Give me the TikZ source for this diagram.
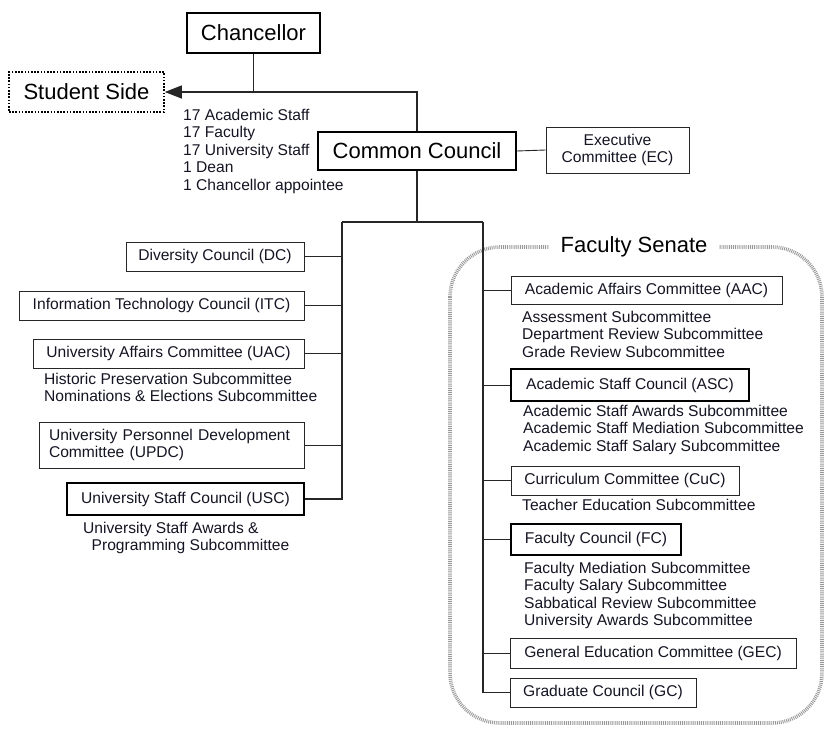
\documentclass[tikz,border=0pt]{standalone}
\usepackage{fontspec}
\setmainfont{Liberation Sans}
\usetikzlibrary{arrows.meta}
\newcommand\smfont{\fontsize{15.6}{17.6}\selectfont}
\newcommand\bigfont{\fontsize{22}{26}\selectfont}
\definecolor{ink}{RGB}{20,20,35}
\tikzset{
  box/.style={draw=black!85, line width=0.9pt, font=\smfont, text=ink, inner sep=0pt, align=center},
  thickbox/.style={box, line width=1.9pt, draw=black},
  bigbox/.style={draw=black, line width=1.9pt, font=\bigfont, text=black, inner sep=0pt},
  subtext/.style={font=\smfont, text=ink, inner sep=0pt, align=left, anchor=north west},
  bus/.style={line width=1.2pt, draw=black!85},
  branch/.style={line width=0.9pt, draw=black!85},
}
\begin{document}
\begin{tikzpicture}[x=1pt,y=-1pt]
\useasboundingbox (0,0) rectangle (827,728);
% Faculty Senate frame
\draw[draw=gray!80, line width=3.6pt, dash pattern=on 0.9pt off 1.0pt, rounded corners=50pt] (450,247) rectangle (822,723);
\node[fill=white, inner xsep=12pt, inner ysep=2pt, font=\bigfont] (fs) at (634,247) {Faculty Senate};
% top
\node[bigbox, minimum width=133, minimum height=40] (chan) at (253.5,33) {Chancellor};
\node[draw=black, line width=1.6pt, dash pattern=on 1.6pt off 1.6pt, font=\bigfont, inner sep=0pt, minimum width=155, minimum height=40] (ss) at (86.5,92) {Student Side};
\node[bigbox, minimum width=198, minimum height=38] (cc) at (417,151) {Common Council};
\node[box, minimum width=143, minimum height=46] (ec) at (617.5,150) {Executive\\[-1pt]Committee (EC)};
\node[subtext] (members) at (183,108.5) {17 Academic Staff\\17 Faculty\\17 University Staff\\1 Dean\\1 Chancellor appointee};
\draw[bus] (chan.south) -- (chan.south |- ss.east);
\draw[bus, -{Triangle[length=17pt,width=13pt]}] (cc.north) |- (ss.east);
\draw[branch] (cc.east) -- (ec.west);
% bus
\coordinate (L) at (342,222);
\coordinate (R) at (483,222);
\draw[bus] (cc.south) -- (cc.south |- L);
\draw[bus] (L) -- (R);
% left side
\node[box, minimum width=178, minimum height=29] (dc) at (215,256.5) {Diversity Council (DC)};
\node[box, minimum width=285, minimum height=29] (itc) at (161.5,305.5) {Information Technology Council (ITC)};
\node[box, minimum width=271, minimum height=29] (uac) at (168.5,353.5) {University Affairs Committee (UAC)};
\node[subtext] (uacsub) at (44,372.5) {Historic Preservation Subcommittee\\Nominations \& Elections Subcommittee};
\node[box, minimum width=265, minimum height=46, text width=245, align=left, font=\fontsize{15.6}{16.8}\selectfont] (updc) at (171.5,445) {University Personnel Development\\Committee (UPDC)};
\node[thickbox, minimum width=237, minimum height=32] (usc) at (185.5,499) {University Staff Council (USC)};
\node[subtext] (uscsub) at (83,521.5) {University Staff Awards \&\\\hspace*{8.5pt}Programming Subcommittee};
\draw[bus] (L) |- (usc.east);
\foreach \n in {dc,itc,uac,updc}{\draw[branch] (\n.east) -- (\n.east -| L);}
% right side
\node[box, minimum width=271, minimum height=28] (aac) at (646.5,290) {Academic Affairs Committee (AAC)};
\node[subtext] (aacsub) at (522,310.5) {Assessment Subcommittee\\Department Review Subcommittee\\Grade Review Subcommittee};
\node[thickbox, minimum width=238, minimum height=32] (asc) at (630,385) {Academic Staff Council (ASC)};
\node[subtext] (ascsub) at (523,404.5) {Academic Staff Awards Subcommittee\\Academic Staff Mediation Subcommittee\\Academic Staff Salary Subcommittee};
\node[box, minimum width=228, minimum height=29] (cuc) at (625,480.5) {Curriculum Committee (CuC)};
\node[subtext] (cucsub) at (522,499.2) {Teacher Education Subcommittee};
\node[thickbox, minimum width=170, minimum height=31] (fc) at (596,539.5) {Faculty Council (FC)};
\node[subtext] (fcsub) at (524,561.5) {Faculty Mediation Subcommittee\\Faculty Salary Subcommittee\\Sabbatical Review Subcommittee\\University Awards Subcommittee};
\node[box, minimum width=286, minimum height=30] (gec) at (653,653) {General Education Committee (GEC)};
\node[box, minimum width=186, minimum height=29] (gc) at (603,692.5) {Graduate Council (GC)};
\draw[bus] (R) |- (gc.west);
\foreach \n in {aac,asc,cuc,fc,gec}{\draw[branch] (\n.west) -- (\n.west -| R);}
\end{tikzpicture}
\end{document}
